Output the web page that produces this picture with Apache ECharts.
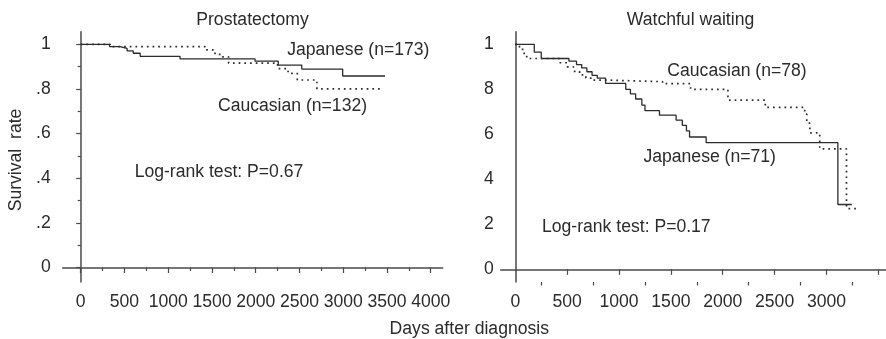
<!DOCTYPE html>
<html>
<head>
<meta charset="utf-8">
<script src="https://cdn.jsdelivr.net/npm/echarts@6/dist/echarts.min.js"></script>
<style>
  html, body { margin: 0; padding: 0; background: #fff; }
  #chart { width: 886px; height: 339px; }
</style>
</head>
<body>
<div id="chart"></div>
<script>
// Kaplan-Meier survival, Japanese vs Caucasian, by treatment

// Prostatectomy panel
const prostJapaneseDays = [0, 330, 450, 530, 600, 680, 1135, 1992, 2258, 2526, 2994, 3478];
const prostJapaneseSurv = [1, 0.99, 0.982, 0.971, 0.96, 0.946, 0.935, 0.925, 0.907, 0.889, 0.858, 0.858];
const prostCaucasianDays = [0, 336, 1420, 1535, 1620, 1690, 2250, 2370, 2475, 2700, 3445];
const prostCaucasianSurv = [1, 0.99, 0.975, 0.955, 0.944, 0.916, 0.891, 0.87, 0.84, 0.80, 0.80];

// Watchful waiting panel
const waitJapaneseDays = [0, 183, 250, 517, 590, 640, 690, 740, 790, 870, 1065, 1110, 1160, 1220, 1250, 1390, 1550, 1610, 1650, 1680, 1840, 3110, 3245];
const waitJapaneseSurv = [1, 0.965, 0.937, 0.925, 0.91, 0.895, 0.878, 0.862, 0.85, 0.826, 0.80, 0.78, 0.757, 0.73, 0.705, 0.685, 0.663, 0.64, 0.615, 0.588, 0.563, 0.288, 0.288];
const waitCaucasianDays = [0, 40, 70, 110, 430, 500, 560, 620, 680, 740, 870, 1420, 1690, 2050, 2410, 2790, 2810, 2840, 2935, 3193, 3300];
const waitCaucasianSurv = [1, 0.985, 0.96, 0.937, 0.918, 0.9, 0.88, 0.864, 0.85, 0.841, 0.834, 0.825, 0.80, 0.752, 0.72, 0.69, 0.65, 0.606, 0.535, 0.27, 0.27];

// Axis ticks and their labels
const prostXMajor = [0, 500, 1000, 1500, 2000, 2500, 3000, 3500, 4000];
const prostXMinor = [250, 750, 1250, 1750, 2250, 2750, 3250, 3750];
const waitXLabelled = [0, 500, 1000, 1500, 2000, 2500, 3000];
const waitXMajor = [500, 1000, 1500, 2000, 2500, 3000, 3500];
const waitXMinor = [250, 750, 1250, 1750, 2250, 2750, 3250];
const yTickValues = [0, 0.2, 0.4, 0.6, 0.8, 1];
const yMinorValues = [0.1, 0.3, 0.5, 0.7, 0.9];
const prostYTickLabels = ['0', '.2', '.4', '.6', '.8', '1'];
const waitYTickLabels = ['0', '2', '4', '6', '8', '1'];

const FONT = 'Liberation Sans, Arial, Helvetica, sans-serif';
const INK = '#2b2b2b';
const AXIS = '#4a4a4a';
const FS = 17.6;

function pairs(xs, ys) { return xs.map((x, i) => [x, ys[i]]); }
function yLabel(labels) {
  return v => {
    const i = yTickValues.findIndex(t => Math.abs(t - v) < 1e-6);
    return i >= 0 ? labels[i] : '';
  };
}
const dayLabel = v => String(Math.round(v));

const solid = { color: INK, width: 1.3, type: 'solid' };
const dotted = { color: INK, width: 1.7, type: [1.7, 4], cap: 'butt' };

const chart = echarts.init(document.getElementById('chart'), null, { renderer: 'canvas' });

const baseX = (grid, min, max) => ({
  type: 'value', gridIndex: grid, min, max, position: 'bottom',
  splitLine: { show: false }
});
const baseY = (grid, min, max) => ({
  type: 'value', gridIndex: grid, min, max, position: 'left',
  splitLine: { show: false }
});

chart.setOption({
  animation: false,
  backgroundColor: '#fff',
  textStyle: { fontFamily: FONT },
  grid: [
    { left: 62.7, right: 443.3, top: 31.7, bottom: 57 },
    { left: 500.7, right: 0, top: 31.7, bottom: 57 }
  ],
  xAxis: [
    // Prostatectomy: axis line, major ticks, labels
    Object.assign(baseX(0, -205.7, 4137), {
      axisLine: { show: true, lineStyle: { color: AXIS, width: 1.5 } },
      axisTick: { show: true, length: 5.5, customValues: prostXMajor, lineStyle: { color: AXIS, width: 1.2 } },
      axisLabel: { show: true, customValues: prostXMajor, formatter: dayLabel, margin: 11, color: INK, fontSize: FS, fontFamily: FONT }
    }),
    // Prostatectomy: minor ticks
    Object.assign(baseX(0, -205.7, 4137), {
      axisLine: { show: false },
      axisTick: { show: true, length: 3.5, customValues: prostXMinor, lineStyle: { color: AXIS, width: 1.2 } },
      axisLabel: { show: false }
    }),
    // Watchful waiting: axis line, major ticks, labels
    Object.assign(baseX(1, -140.8, 3574), {
      axisLine: { show: true, lineStyle: { color: AXIS, width: 1.5 } },
      axisTick: { show: true, length: 5.5, customValues: waitXMajor, lineStyle: { color: AXIS, width: 1.2 } },
      axisLabel: { show: true, customValues: waitXLabelled, formatter: dayLabel, margin: 11, color: INK, fontSize: FS, fontFamily: FONT }
    }),
    // Watchful waiting: minor ticks
    Object.assign(baseX(1, -140.8, 3574), {
      axisLine: { show: false },
      axisTick: { show: true, length: 3.5, customValues: waitXMinor, lineStyle: { color: AXIS, width: 1.2 } },
      axisLabel: { show: false }
    })
  ],
  yAxis: [
    Object.assign(baseY(0, -0.065, 1.0565), {
      axisLine: { show: true, lineStyle: { color: AXIS, width: 1.5 } },
      axisTick: { show: true, length: 4.5, customValues: yTickValues, lineStyle: { color: AXIS, width: 1.2 } },
      axisLabel: { show: true, customValues: yTickValues, formatter: yLabel(prostYTickLabels), margin: 12, color: INK, fontSize: FS, fontFamily: FONT }
    }),
    Object.assign(baseY(0, -0.065, 1.0565), {
      axisLine: { show: false },
      axisTick: { show: true, length: 3, customValues: yMinorValues, lineStyle: { color: AXIS, width: 1.2 } },
      axisLabel: { show: false }
    }),
    Object.assign(baseY(1, -0.0564, 1.056), {
      axisLine: { show: true, lineStyle: { color: AXIS, width: 1.5 } },
      axisTick: { show: false },
      axisLabel: { show: true, customValues: yTickValues, formatter: yLabel(waitYTickLabels), margin: 7, color: INK, fontSize: FS, fontFamily: FONT }
    })
  ],
  series: [
    { name: 'Japanese (n=173)', type: 'line', step: 'end', xAxisIndex: 0, yAxisIndex: 0,
      data: pairs(prostJapaneseDays, prostJapaneseSurv), showSymbol: false, lineStyle: solid, z: 3 },
    { name: 'Caucasian (n=132)', type: 'line', step: 'end', xAxisIndex: 0, yAxisIndex: 0,
      data: pairs(prostCaucasianDays, prostCaucasianSurv), showSymbol: false, lineStyle: dotted, z: 2 },
    { name: 'Japanese (n=71)', type: 'line', step: 'end', xAxisIndex: 2, yAxisIndex: 2,
      data: pairs(waitJapaneseDays, waitJapaneseSurv), showSymbol: false, lineStyle: solid, z: 3 },
    { name: 'Caucasian (n=78)', type: 'line', step: 'end', xAxisIndex: 2, yAxisIndex: 2,
      data: pairs(waitCaucasianDays, waitCaucasianSurv), showSymbol: false, lineStyle: dotted, z: 2 }
  ],
  graphic: [
    { type: 'text', x: 252.5, y: 20, style: { text: 'Prostatectomy', font: FS + 'px ' + FONT, fill: INK, align: 'center', verticalAlign: 'middle' } },
    { type: 'text', x: 690.5, y: 20, style: { text: 'Watchful waiting', font: FS + 'px ' + FONT, fill: INK, align: 'center', verticalAlign: 'middle' } },
    { type: 'text', x: 358.3, y: 50, style: { text: 'Japanese (n=173)', font: FS + 'px ' + FONT, fill: INK, align: 'center', verticalAlign: 'middle' } },
    { type: 'text', x: 292.5, y: 106, style: { text: 'Caucasian (n=132)', font: FS + 'px ' + FONT, fill: INK, align: 'center', verticalAlign: 'middle' } },
    { type: 'text', x: 219, y: 172, style: { text: 'Log-rank test: P=0.67', font: FS + 'px ' + FONT, fill: INK, align: 'center', verticalAlign: 'middle' } },
    { type: 'text', x: 737, y: 71, style: { text: 'Caucasian (n=78)', font: FS + 'px ' + FONT, fill: INK, align: 'center', verticalAlign: 'middle' } },
    { type: 'text', x: 709.7, y: 156.7, style: { text: 'Japanese (n=71)', font: FS + 'px ' + FONT, fill: INK, align: 'center', verticalAlign: 'middle' } },
    { type: 'text', x: 626.3, y: 226.7, style: { text: 'Log-rank test: P=0.17', font: FS + 'px ' + FONT, fill: INK, align: 'center', verticalAlign: 'middle' } },
    { type: 'text', x: 469.3, y: 329, style: { text: 'Days after diagnosis', font: FS + 'px ' + FONT, fill: INK, align: 'center', verticalAlign: 'middle' } },
    { type: 'text', x: 16.5, y: 160, rotation: Math.PI / 2, style: { text: 'Survival  rate', font: FS + 'px ' + FONT, fill: INK, align: 'center', verticalAlign: 'middle' } }
  ]
});
</script>
</body>
</html>
